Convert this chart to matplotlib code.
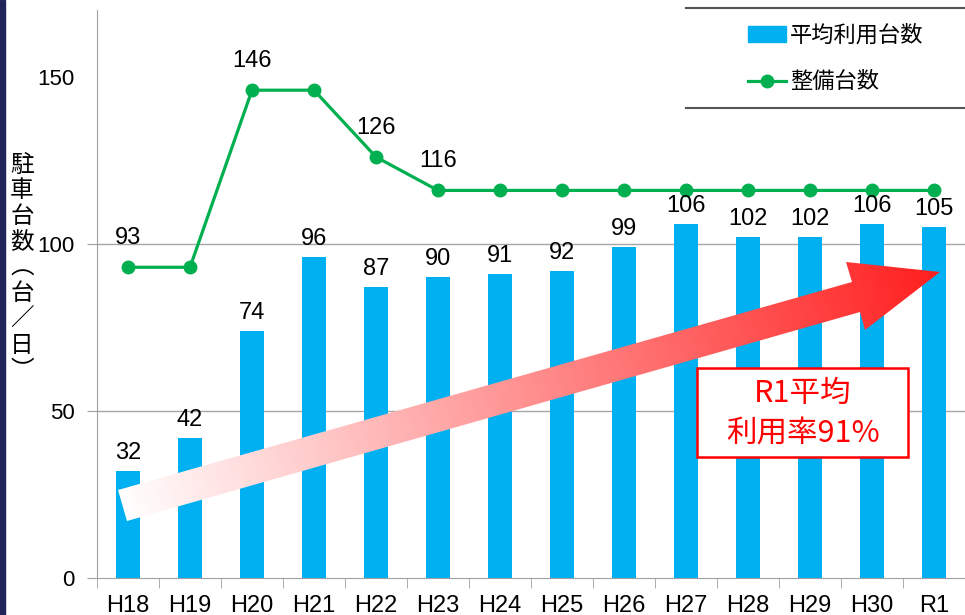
import numpy as np
import matplotlib
matplotlib.use("Agg")
import matplotlib.pyplot as plt
from matplotlib import font_manager
from matplotlib.patches import Patch, Polygon, Rectangle
from matplotlib.lines import Line2D

years = ["H18", "H19", "H20", "H21", "H22", "H23", "H24",
         "H25", "H26", "H27", "H28", "H29", "H30", "R1"]
avg_use = [32, 42, 74, 96, 87, 90, 91, 92, 99, 106, 102, 102, 106, 105]
spaces = [93, 93, 146, 146, 126, 116, 116, 116, 116, 116, 116, 116, 116, 116]
# only some of the line points carry a label
space_labels = {0: "93", 2: "146", 4: "126", 5: "116"}
yticks = [0, 50, 100, 150]

jp = "Noto Sans CJK JP"
names = {f.name for f in font_manager.fontManager.ttflist}
narrow = "Liberation Sans Narrow" if "Liberation Sans Narrow" in names else "Liberation Sans"
plt.rcParams["font.family"] = ["Liberation Sans", jp, "DejaVu Sans"]

W, H = 965, 615
fig = plt.figure(figsize=(W / 100, H / 100), dpi=100)
ax = fig.add_axes([97 / W, 1 - 578 / H, 1 - 97 / W, (578 - 10) / H])

x = np.arange(len(years))
ax.bar(x, avg_use, width=0.4, color="#00B0F0", zorder=2)
ax.plot(x, spaces, color="#00B050", lw=2.3, marker="o", ms=9, zorder=3)

for i, v in enumerate(avg_use):
    ax.annotate(str(v), (i, v), xytext=(0, 5), textcoords="offset points",
                ha="center", va="bottom", fontsize=17, family=narrow)
for i, s in space_labels.items():
    ax.annotate(s, (i, spaces[i]), xytext=(0, 13), textcoords="offset points",
                ha="center", va="bottom", fontsize=17, family=narrow)

ax.set_xlim(-0.5, len(years) - 0.5)
ax.set_ylim(0, 170)
ax.set_yticks(yticks)
ax.set_yticklabels([str(t) for t in yticks], fontsize=16)
ax.set_xticks(x)
ax.set_xticklabels(years, fontsize=17, family=narrow)
ax.set_xticks(np.arange(-0.5, len(years), 1), minor=True)
ax.tick_params(axis="x", which="major", length=0, pad=12)
ax.tick_params(axis="x", which="minor", length=7, color="#A0A0A0")
ax.tick_params(axis="y", length=7, color="#A0A0A0", pad=9)
ax.yaxis.get_major_ticks()[-1].tick1line.set_visible(False)
for t in [50, 100]:
    ax.axhline(t, color="#A6A6A6", lw=1, zorder=1)
for side in ["top", "right"]:
    ax.spines[side].set_visible(False)
for side in ["left", "bottom"]:
    ax.spines[side].set_color("#A0A0A0")

# vertical y label, one character per line
ylab = "駐車台数︵台／日︶"
fig.text(22 / W, 1 - 268 / H, "\n".join(ylab), ha="center", va="center",
         fontsize=17, family=[jp, "DejaVu Sans"], linespacing=1.15)

# legend
handles = [Patch(color="#00B0F0"),
           Line2D([], [], color="#00B050", lw=2.3, marker="o", ms=9)]
fig.legend(handles, ["平均利用台数", "整備台数"], loc="upper left",
           bbox_to_anchor=(728 / W, 1 - 4 / H), frameon=False,
           prop={"family": [jp, "DejaVu Sans"], "size": 16},
           handlelength=1.7, handletextpad=0.2, labelspacing=1.05)
for yy in [8, 108]:
    fig.add_artist(Line2D([686 / W, 1], [1 - yy / H] * 2, transform=fig.transFigure,
                          color="#555555", lw=1.5))

# pixel overlay for the arrow and the red note box
ov = fig.add_axes([0, 0, 1, 1], zorder=4)
ov.set_xlim(0, W)
ov.set_ylim(H, 0)
ov.axis("off")
ov.patch.set_alpha(0)

arrow_pts = [(118, 490), (852, 282), (846, 262), (940, 272),
             (865, 330), (860, 312), (127, 521)]
poly = Polygon(arrow_pts, closed=True, fc="none", ec="none", transform=ov.transData)
ov.add_patch(poly)
gx, gy = np.meshgrid(np.arange(W) + 0.5, np.arange(H) + 0.5)
p0 = np.array([122.0, 505.0])
p1 = np.array([940.0, 272.0])
d = p1 - p0
t = ((gx - p0[0]) * d[0] + (gy - p0[1]) * d[1]) / (d @ d)
t = np.clip(t, 0, 1)
white = np.array([1.0, 1.0, 1.0])
red = np.array([1.0, 0.12, 0.12])
img = white[None, None, :] * (1 - t[..., None]) + red[None, None, :] * t[..., None]
im = ov.imshow(img, extent=(0, W, H, 0), interpolation="bilinear", aspect="auto")
im.set_clip_path(poly)

ov.add_patch(Rectangle((697, 368), 211, 89, fc="white", ec="#FF0000", lw=1.8))
ov.text(803, 393, "R1平均", ha="center", va="center", color="#FF0000",
        fontsize=22, family=[jp, "DejaVu Sans"])
ov.text(803, 433, "利用率91%", ha="center", va="center", color="#FF0000",
        fontsize=22, family=[jp, "DejaVu Sans"])

# dark border on the left edge
fig.add_artist(Rectangle((0, 0), 5 / W, 1, transform=fig.transFigure,
                         color="#23235C", zorder=10))

fig.savefig("out.png", dpi=100)
